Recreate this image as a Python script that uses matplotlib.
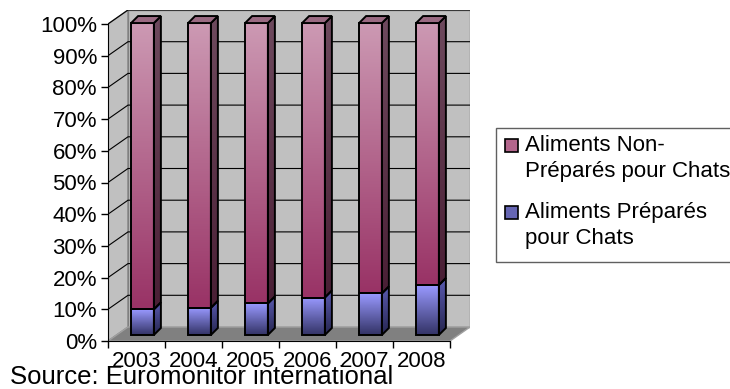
import numpy as np
import matplotlib.pyplot as plt
from matplotlib.patches import Polygon, Rectangle
from matplotlib.colors import LinearSegmentedColormap

plt.rcParams['font.family'] = ['Liberation Sans', 'DejaVu Sans']

# part of cat food sales, in %
years = ['2003', '2004', '2005', '2006', '2007', '2008']
prepares = [8.2, 8.7, 10.1, 12.0, 13.3, 16.0]
non_prepares = [91.8, 91.3, 89.9, 88.0, 86.7, 84.0]
labels = ['Aliments Non-\nPréparés pour Chats', 'Aliments Préparés\npour Chats']

W, H = 730, 389
PX_X, PX_Y = 57.0, 3.17          # pixels per data unit
wdx, wdy = 20 / PX_X, 14 / PX_Y  # depth of the floor / walls
bdx, bdy = 7 / PX_X, 7 / PX_Y    # depth of a column
bar_off, bar_w = -0.095, 0.40
base, k = 1.9, 0.984

fig = plt.figure(figsize=(W / 100, H / 100), dpi=100)
ax = fig.add_axes([108 / W, 1 - 341 / H, (6 + wdx) * PX_X / W, (100 + wdy) * PX_Y / H])
ax.set_xlim(-0.5, 5.5 + wdx)
ax.set_ylim(0, 100 + wdy)
ax.patch.set_visible(False)


def shade(verts, c_top, c_bot, z):
    xs = [v[0] for v in verts]
    ys = [v[1] for v in verts]
    cmap = LinearSegmentedColormap.from_list('g', [c_bot, c_top])
    im = ax.imshow(np.linspace(0, 1, 64).reshape(-1, 1), cmap=cmap, origin='lower',
                   extent=(min(xs), max(xs), min(ys), max(ys)), aspect='auto',
                   interpolation='bilinear', zorder=z)
    im.set_clip_path(Polygon(verts, closed=True, transform=ax.transData))
    ax.add_patch(Polygon(verts, closed=True, facecolor='none', edgecolor='black',
                         lw=1.4, zorder=z + 0.01, joinstyle='miter'))


# walls and floor
x0, x1 = -0.5, 5.5
ax.add_patch(Polygon([(x0 + wdx, wdy), (x1 + wdx, wdy), (x1 + wdx, 100 + wdy), (x0 + wdx, 100 + wdy)],
                     facecolor='#c0c0c0', edgecolor='#808080', lw=1, zorder=0))
ax.add_patch(Polygon([(x0, 0), (x0 + wdx, wdy), (x0 + wdx, 100 + wdy), (x0, 100)],
                     facecolor='#c0c0c0', edgecolor='#808080', lw=1, zorder=0))
ax.add_patch(Polygon([(x0, 0), (x1, 0), (x1 + wdx, wdy), (x0 + wdx, wdy)],
                     facecolor='#808080', edgecolor='#a0a0a0', lw=1, zorder=0.2))
for v in range(10, 101, 10):
    ax.plot([x0, x0 + wdx, x1 + wdx], [v, v + wdy, v + wdy], color='black', lw=0.8, zorder=0.5)

# columns
for i in range(len(years)):
    xl = i + bar_off
    xr = xl + bar_w
    segs = [(prepares[i], '#9999ff', '#333366', '#5a5ab0', '#262650'),
            (non_prepares[i], '#cc99b3', '#993366', '#6e4a5e', '#4a1f35')]
    y0 = base
    for val, front_top, front_bot, side_top, side_bot in segs:
        y1 = y0 + k * val
        shade([(xl, y0), (xr, y0), (xr, y1), (xl, y1)], front_top, front_bot, 2 + i)
        shade([(xr, y0), (xr + bdx, y0 + bdy), (xr + bdx, y1 + bdy), (xr, y1)], side_top, side_bot, 2 + i)
        y0 = y1
    ax.add_patch(Polygon([(xl, y0), (xl + bdx, y0 + bdy), (xr + bdx, y0 + bdy), (xr, y0)],
                         facecolor='#9a6a82', edgecolor='black', lw=1.4, zorder=2.05 + i))

# axes
for s in ['top', 'right']:
    ax.spines[s].set_visible(False)
ax.spines['left'].set_bounds(0, 100)
ax.spines['bottom'].set_bounds(x0, x1)
ax.set_yticks(range(0, 101, 10))
ax.set_yticklabels([f'{v}%' for v in range(0, 101, 10)], fontsize=16)
ax.set_xticks(np.arange(x0, x1 + 0.01, 1))
ax.set_xticklabels([])
ax.set_xticks(range(len(years)), minor=True)
ax.set_xticklabels(years, minor=True, fontsize=16)
ax.tick_params(axis='y', length=5, width=1, pad=3)
ax.tick_params(axis='x', which='major', length=5, width=1)
ax.tick_params(axis='x', which='minor', length=0, pad=7)

# legend box
fig.patches.append(Rectangle((496 / W, 1 - 262 / H), 250 / W, 134 / H, transform=fig.transFigure,
                             facecolor='white', edgecolor='#606060', lw=1))
for c, yc, txt in [('#b3668c', 145, labels[0]), ('#6666b3', 212, labels[1])]:
    fig.patches.append(Rectangle((505 / W, 1 - (yc + 6.5) / H), 13 / W, 13 / H, transform=fig.transFigure,
                                 facecolor=c, edgecolor='black', lw=1.2))
    fig.text(525 / W, 1 - (yc - 10) / H, txt, fontsize=16, va='top', ha='left', linespacing=1.3)

fig.text(10 / W, 1 - 384 / H, 'Source: Euromonitor international', fontsize=18.5, va='baseline', ha='left')

fig.savefig('out.png', dpi=100)
